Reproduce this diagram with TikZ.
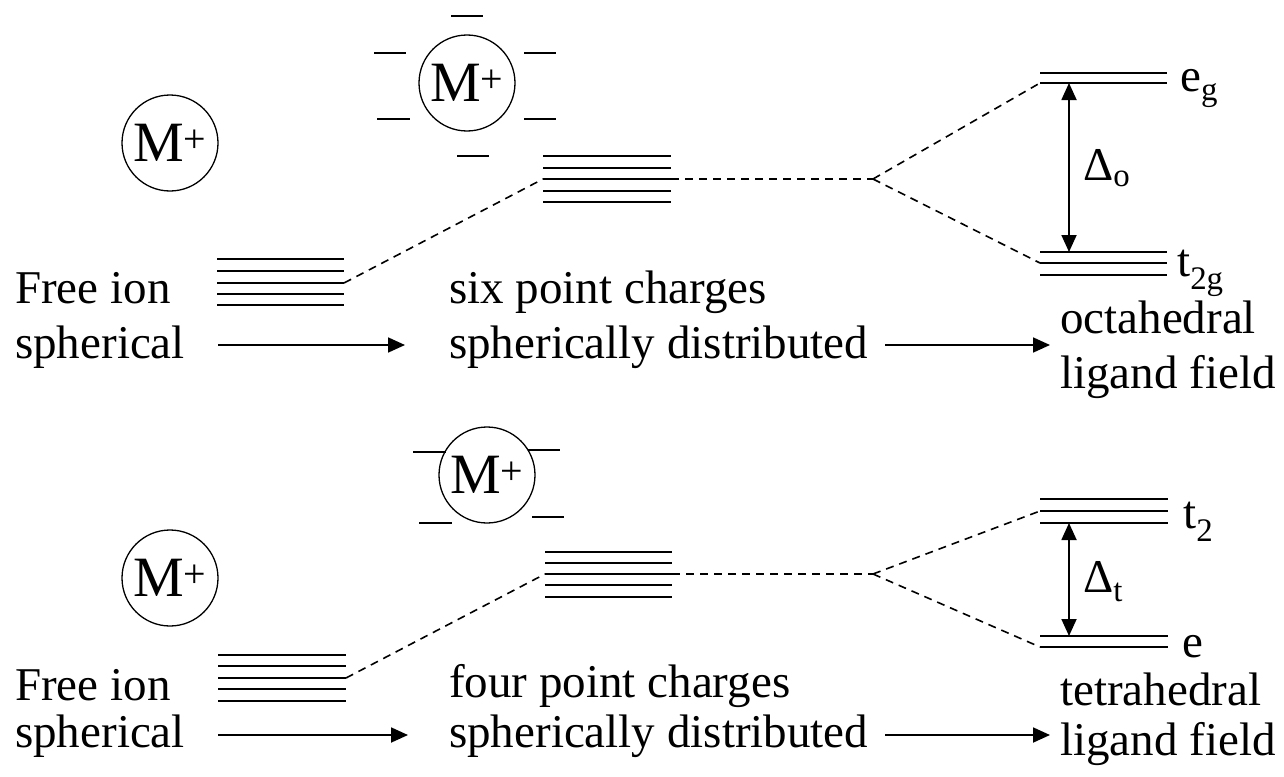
\documentclass[tikz,border=0pt]{standalone}
\usepackage{fontspec}
\setmainfont{Liberation Serif}
\usetikzlibrary{arrows.meta, positioning}

\begin{document}
\begin{tikzpicture}[x=1pt, y=-1pt, font=\fontsize{47}{55}\selectfont,
    level/.style={line width=2pt},
    charge/.style={line width=1.8pt},
    link/.style={dash pattern=on 8pt off 6pt, line width=1.6pt},
    ion/.style={circle, draw, line width=1.3pt, minimum size=96pt, inner sep=0pt, font=\fontsize{57}{64}\selectfont},
    txt/.style={anchor=base west, inner sep=0pt},
    proc/.style={-{Triangle[length=17pt, width=15pt]}, line width=1.8pt},
    gap/.style={{Triangle[length=17pt, width=15pt]}-{Triangle[length=17pt, width=15pt]}, line width=1.8pt}]
  \useasboundingbox (0,0) rectangle (1284,776);

  % ----- Octahedral case (top) -----
  \node[ion] (ionA) at (170,143) {M\textsuperscript{+}}; % free ion
  \node[ion] (ionB) at (467,83) {M\textsuperscript{+}}; % ion with six charges
  \draw[charge] (451,16) -- (483,16);
  \draw[charge] (374,53) -- (406,53);
  \draw[charge] (524,53) -- (556,53);
  \draw[charge] (377,119) -- (410,119);
  \draw[charge] (524,119) -- (556,119);
  \draw[charge] (457,156) -- (489,156);

  % free ion levels
  \draw[level] (217,259) -- (344,259);
  \draw[level] (217,271) -- (344,271);
  \draw[level] (217,283) -- (344,283);
  \draw[level] (217,294) -- (344,294);
  \draw[level] (217,305) -- (344,305);
  % raised levels
  \draw[level] (543,156) -- (671,156);
  \draw[level] (543,168) -- (671,168);
  \draw[level] (543,179) -- (671,179);
  \draw[level] (543,191) -- (671,191);
  \draw[level] (543,202) -- (671,202);
  % split levels
  \draw[level] (1040,73) -- (1167,73);
  \draw[level] (1040,83) -- (1167,83);
  \draw[level] (1040,252) -- (1167,252);
  \draw[level] (1040,263) -- (1167,263);
  \draw[level] (1040,275) -- (1167,275);

  \coordinate (freeA) at (344,283);
  \coordinate (sixL) at (543,179);
  \coordinate (sixR) at (671,179);
  \coordinate (forkA) at (873,179);
  \coordinate (egL) at (1040,83);
  \coordinate (tgL) at (1040,263);
  \coordinate (egA) at (1069,83);
  \coordinate (tgA) at (1069,252);

  \draw[link] (freeA) -- (sixL);
  \draw[link] (sixR) -- (forkA);
  \draw[link] (forkA) -- (egL);
  \draw[link] (forkA) -- (tgL);
  \draw[gap] (egA) -- (tgA);

  \node[txt] (eg) at (1180,92) {e\textsubscript{g}};
  \node[txt] (tg) at (1177,276) {t\textsubscript{2g}};
  \node[txt] (dO) at (1083,180) {Δ\textsubscript{o}};

  \node[txt] (freeA1) at (15,303) {Free ion};
  \node[txt] (freeA2) at (15,358) {spherical};
  \node[txt] (sixA1) at (449,303) {six point charges};
  \node[txt] (sixA2) at (449,358) {spherically distributed};
  \node[txt] (octA1) at (1060,333) {octahedral};
  \node[txt] (octA2) at (1060,388) {ligand field};

  \coordinate (arA1) at (218,345);
  \coordinate (arA2) at (405,345);
  \coordinate (arA3) at (885,345);
  \coordinate (arA4) at (1050,345);
  \draw[proc] (arA1) -- (arA2);
  \draw[proc] (arA3) -- (arA4);

  % ----- Tetrahedral case (bottom) -----
  \node[ion] (ionC) at (170,578) {M\textsuperscript{+}}; % free ion
  \node[ion] (ionD) at (487,475) {M\textsuperscript{+}}; % ion with four charges
  \draw[charge] (413,452) -- (446,452);
  \draw[charge] (528,450) -- (560,450);
  \draw[charge] (419,523) -- (452,523);
  \draw[charge] (532,517) -- (564,517);

  % free ion levels
  \draw[level] (218,655) -- (346,655);
  \draw[level] (218,666) -- (346,666);
  \draw[level] (218,678) -- (346,678);
  \draw[level] (218,689) -- (346,689);
  \draw[level] (218,701) -- (346,701);
  % raised levels
  \draw[level] (545,552) -- (672,552);
  \draw[level] (545,563) -- (672,563);
  \draw[level] (545,574) -- (672,574);
  \draw[level] (545,585) -- (672,585);
  \draw[level] (545,597) -- (672,597);
  % split levels
  \draw[level] (1040,499) -- (1168,499);
  \draw[level] (1040,511) -- (1168,511);
  \draw[level] (1040,523) -- (1168,523);
  \draw[level] (1040,636) -- (1168,636);
  \draw[level] (1040,647) -- (1168,647);

  \coordinate (freeC) at (346,678);
  \coordinate (fourL) at (545,574);
  \coordinate (fourR) at (672,574);
  \coordinate (forkC) at (873,574);
  \coordinate (ttL) at (1040,511);
  \coordinate (eeL) at (1040,647);
  \coordinate (ttA) at (1069,523);
  \coordinate (eeA) at (1069,636);

  \draw[link] (freeC) -- (fourL);
  \draw[link] (fourR) -- (forkC);
  \draw[link] (forkC) -- (ttL);
  \draw[link] (forkC) -- (eeL);
  \draw[gap] (ttA) -- (eeA);

  \node[txt] (tt) at (1183,528) {t\textsubscript{2}};
  \node[txt] (ee) at (1182,657) {e};
  \node[txt] (dT) at (1083,592) {Δ\textsubscript{t}};

  \node[txt] (freeC1) at (15,700) {Free ion};
  \node[txt] (freeC2) at (15,747) {spherical};
  \node[txt] (fourC1) at (449,697) {four point charges};
  \node[txt] (fourC2) at (449,747) {spherically distributed};
  \node[txt] (tetC1) at (1060,705) {tetrahedral};
  \node[txt] (tetC2) at (1060,755) {ligand field};

  \coordinate (arC1) at (218,735);
  \coordinate (arC2) at (408,735);
  \coordinate (arC3) at (885,735);
  \coordinate (arC4) at (1050,735);
  \draw[proc] (arC1) -- (arC2);
  \draw[proc] (arC3) -- (arC4);
\end{tikzpicture}
\end{document}
